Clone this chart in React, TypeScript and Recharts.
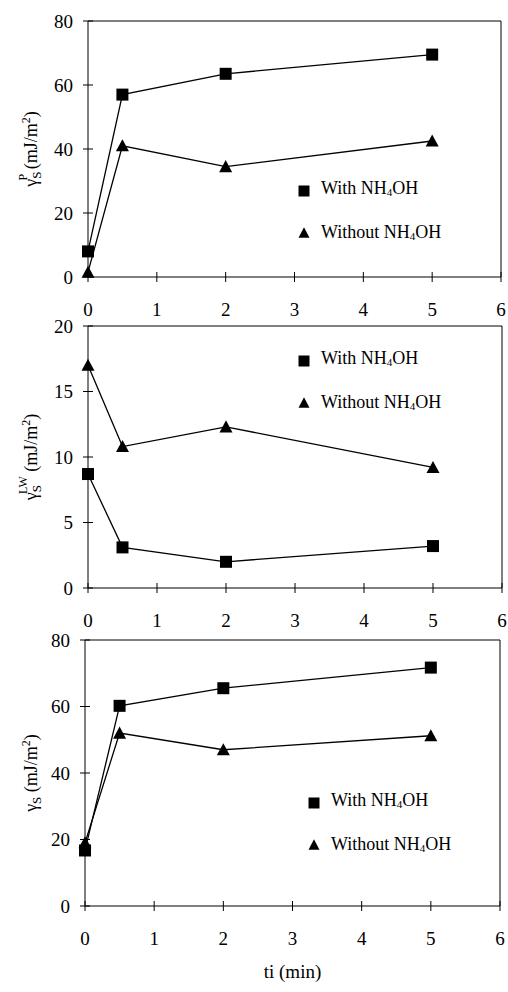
import React from "react";
import { Legend, Line, LineChart, ReferenceLine, XAxis, YAxis } from "recharts";

const FONT = '"Liberation Serif", "Times New Roman", serif';

// immersion time (min)
const time = [0, 0.5, 2, 5];
const xTicks = [0, 1, 2, 3, 4, 5, 6];

// polar component
const polarWith = [8, 57, 63.5, 69.5];
const polarWithout = [1.5, 41, 34.5, 42.5];
const polarTicks = [0, 20, 40, 60, 80];

// Lifshitz-van der Waals component
const lwWith = [8.7, 3.1, 2.0, 3.2];
const lwWithout = [17.0, 10.8, 12.3, 9.2];
const lwTicks = [0, 5, 10, 15, 20];

// total surface energy
const totalWith = [16.7, 60.2, 65.5, 71.7];
const totalWithout = [19, 52, 47, 51.2];
const totalTicks = [0, 20, 40, 60, 80];

const seriesNames = { with: "With NH4OH", without: "Without NH4OH" };

const rows = (a: number[], b: number[]) =>
  time.map((t, i) => ({ t, with: a[i], without: b[i] }));

function Square({ cx, cy, size = 12 }: any) {
  return <rect x={cx - size / 2} y={cy - size / 2} width={size} height={size} fill="#000" />;
}

function Triangle({ cx, cy, size = 13 }: any) {
  const h = size * 0.85;
  return (
    <polygon
      points={`${cx},${cy - h / 2 - 1} ${cx - size / 2},${cy + h / 2} ${cx + size / 2},${cy + h / 2}`}
      fill="#000"
    />
  );
}

function XTick({ x, y, payload }: any) {
  return (
    <g>
      <line x1={x} x2={x} y1={y - 5} y2={y + 5} stroke="#000" />
      <text x={x} y={y + 39} textAnchor="middle" fontSize={19} fontFamily={FONT} fill="#000">
        {payload.value}
      </text>
    </g>
  );
}

function YTick({ x, y, payload }: any) {
  return (
    <g>
      <line x1={x - 5} x2={x + 5} y1={y} y2={y} stroke="#000" />
      <text x={x - 15} y={y} dy="0.35em" textAnchor="end" fontSize={19} fontFamily={FONT} fill="#000">
        {payload.value}
      </text>
    </g>
  );
}

function NH4OH({ prefix }: { prefix: string }) {
  return (
    <span>
      {prefix} NH<sub style={{ fontSize: 11, verticalAlign: "-2px" }}>4</sub>OH
    </span>
  );
}

function LegendBox({ payload }: any) {
  return (
    <div style={{ fontFamily: FONT, fontSize: 18, color: "#000", lineHeight: "20px" }}>
      {(payload || []).map((entry: any) => (
        <div key={entry.dataKey} style={{ display: "flex", alignItems: "center", height: 44 }}>
          <svg width={18} height={16} style={{ marginRight: 6 }}>
            {entry.dataKey === "with" ? (
              <Square cx={7} cy={9} size={11} />
            ) : (
              <Triangle cx={7} cy={7} size={11} />
            )}
          </svg>
          <NH4OH prefix={entry.dataKey === "with" ? "With" : "Without"} />
        </div>
      ))}
    </div>
  );
}

function YTitle({ viewBox, cx, sup }: any) {
  const cy = viewBox.y + viewBox.height / 2;
  return (
    <text
      x={cx}
      y={cy}
      transform={`rotate(-90 ${cx} ${cy})`}
      textAnchor="middle"
      fontSize={18}
      fontFamily={FONT}
      fill="#000"
    >
      γ<tspan fontSize={13} dy={4}>S</tspan>
      {sup ? (
        <>
          <tspan fontSize={12} dy={-14} dx={-9}>{sup}</tspan>
          <tspan fontSize={18} dy={10}> (mJ/m</tspan>
        </>
      ) : (
        <tspan fontSize={18} dy={-4}> (mJ/m</tspan>
      )}
      <tspan fontSize={12} dy={-7}>2</tspan>
      <tspan fontSize={18} dy={7}>)</tspan>
    </text>
  );
}

function Panel({
  data,
  yMax,
  yTicks,
  sup,
  top,
  height,
  margin,
  yWidth,
  xHeight,
  legendPos,
  xTitle,
}: any) {
  return (
    <div style={{ position: "absolute", left: 0, top }}>
      <LineChart width={508} height={height} data={data} margin={margin}>
        <XAxis
          dataKey="t"
          type="number"
          domain={[0, 6]}
          ticks={xTicks}
          interval={0}
          height={xHeight}
          tickSize={0}
          tickMargin={0}
          tickLine={false}
          axisLine={{ stroke: "#000" }}
          tick={<XTick />}
          label={
            xTitle
              ? {
                  content: (p: any) => (
                    <text
                      x={p.viewBox.x + p.viewBox.width / 2}
                      y={p.viewBox.y + 72}
                      textAnchor="middle"
                      fontSize={19}
                      fontFamily={FONT}
                      fill="#000"
                    >
                      {xTitle}
                    </text>
                  ),
                }
              : undefined
          }
        />
        <YAxis
          type="number"
          domain={[0, yMax]}
          ticks={yTicks}
          interval={0}
          width={yWidth}
          tickSize={0}
          tickMargin={0}
          tickLine={false}
          axisLine={{ stroke: "#000" }}
          tick={<YTick />}
          label={{ content: (p: any) => <YTitle viewBox={p.viewBox} cx={37} sup={sup} /> }}
        />
        <ReferenceLine y={yMax} stroke="#000" />
        <ReferenceLine x={6} stroke="#000" />
        <Legend
          layout="vertical"
          align="center"
          verticalAlign="middle"
          content={<LegendBox />}
          wrapperStyle={{ position: "absolute", left: legendPos[0], top: legendPos[1], width: 200 }}
        />
        <Line
          dataKey="with"
          name={seriesNames.with}
          stroke="#000"
          strokeWidth={1.3}
          isAnimationActive={false}
          dot={(p: any) => <Square key={`s${p.index}`} cx={p.cx} cy={p.cy} />}
        />
        <Line
          dataKey="without"
          name={seriesNames.without}
          stroke="#000"
          strokeWidth={1.3}
          isAnimationActive={false}
          dot={(p: any) => <Triangle key={`t${p.index}`} cx={p.cx} cy={p.cy} />}
        />
      </LineChart>
    </div>
  );
}

export default function App() {
  return (
    <div style={{ position: "absolute", left: 0, top: 0, width: 508, height: 992, background: "#fff" }}>
      <style>{".recharts-surface{overflow:visible}.recharts-wrapper{overflow:visible}"}</style>
      <Panel
        data={rows(polarWith, polarWithout)}
        yMax={80}
        yTicks={polarTicks}
        sup="P"
        top={0}
        height={320}
        margin={{ top: 21, right: 7, left: 0, bottom: 0 }}
        yWidth={88}
        xHeight={43}
        legendPos={[297, 168]}
      />
      <Panel
        data={rows(lwWith, lwWithout)}
        yMax={20}
        yTicks={lwTicks}
        sup="LW"
        top={316}
        height={318}
        margin={{ top: 10, right: 6, left: 0, bottom: 0 }}
        yWidth={88}
        xHeight={46}
        legendPos={[297, 22]}
      />
      <Panel
        data={rows(totalWith, totalWithout)}
        yMax={80}
        yTicks={totalTicks}
        top={629}
        height={363}
        margin={{ top: 11, right: 8, left: 0, bottom: 0 }}
        yWidth={85}
        xHeight={86}
        legendPos={[307, 151]}
        xTitle="ti (min)"
      />
    </div>
  );
}
